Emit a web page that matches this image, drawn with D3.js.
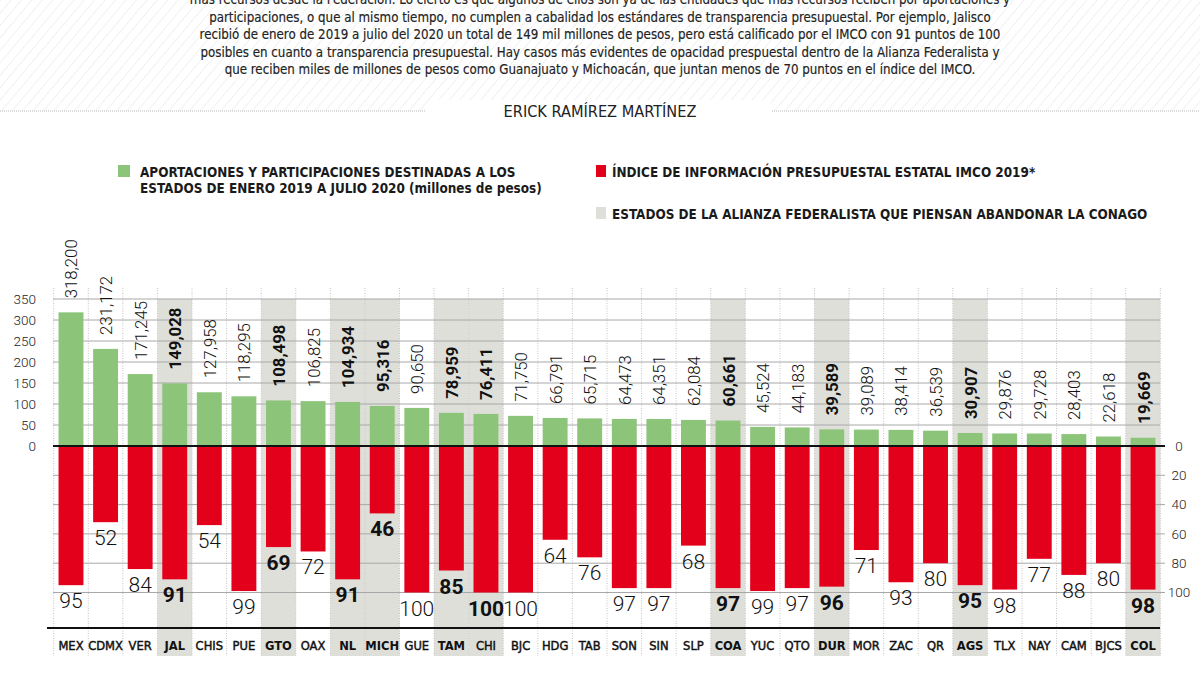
<!DOCTYPE html>
<html><head><meta charset="utf-8">
<script src="https://cdn.jsdelivr.net/npm/d3@7"></script>
<style>
html,body{margin:0;padding:0;background:#fff;}
svg{display:block;}
</style></head>
<body>
<svg id="chart" width="1200" height="675"></svg>
<script>
const categories = ["MEX","CDMX","VER","JAL","CHIS","PUE","GTO","OAX","NL","MICH","GUE","TAM","CHI","BJC","HDG","TAB","SON","SIN","SLP","COA","YUC","QTO","DUR","MOR","ZAC","QR","AGS","TLX","NAY","CAM","BJCS","COL"];
const aportaciones = [318200,231172,171245,149028,127958,118295,108498,106825,104934,95316,90650,78959,76411,71750,66791,65715,64473,64351,62084,60661,45524,44183,39589,39089,38414,36539,30907,29876,29728,28403,22618,19669];
const indiceIMCO = [95,52,84,91,54,99,69,72,91,46,100,85,100,100,64,76,97,97,68,97,99,97,96,71,93,80,95,98,77,88,80,98];
const alianza = ["JAL","GTO","NL","MICH","TAM","CHI","COA","DUR","AGS","COL"];
const boldCategoryLabels = ["JAL","GTO","NL","MICH","TAM","COA","DUR","AGS","COL"];
const leftTicks = [0,50,100,150,200,250,300,350];
const rightTicks = [0,20,40,60,80,100];
const introLines = [
 "más recursos desde la Federación. Lo cierto es que algunos de ellos son ya de las entidades que más recursos reciben por aportaciones y",
 "participaciones, o que al mismo tiempo, no cumplen a cabalidad los estándares de transparencia presupuestal. Por ejemplo, Jalisco",
 "recibió de enero de 2019 a julio del 2020 un total de 149 mil millones de pesos, pero está calificado por el IMCO con 91 puntos de 100",
 "posibles en cuanto a transparencia presupuestal. Hay casos más evidentes de opacidad prespuestal dentro de la Alianza Federalista y",
 "que reciben miles de millones de pesos como Guanajuato y Michoacán, que juntan menos de 70 puntos en el índice del IMCO."
];
const author = "ERICK RAMÍREZ MARTÍNEZ";
const legendItems = [
 {lines:["APORTACIONES Y PARTICIPACIONES DESTINADAS A LOS","ESTADOS DE ENERO 2019 A JULIO 2020 (millones de pesos)"], color:"#8cc47a"},
 {lines:["ÍNDICE  DE INFORMACIÓN PRESUPUESTAL ESTATAL IMCO 2019*"], color:"#e3001b"},
 {lines:["ESTADOS DE LA ALIANZA FEDERALISTA QUE PIENSAN ABANDONAR LA CONAGO"], color:"#dfdfda"}
];

const data = categories.map((c,i)=>({cat:c, ap:aportaciones[i]/1000, apRaw:aportaciones[i], idx:indiceIMCO[i], al:alianza.includes(c)}));

const GREEN="#8cc47a", RED="#e3001b", SHADE="#dfdfda";
const condensed = "'DejaVu Sans Condensed','DejaVu Sans',sans-serif";
const numFont = "Roboto,'Open Sans',sans-serif";

const svg = d3.select("#chart");

// header stripes
const defs = svg.append("defs");
const pat = defs.append("pattern").attr("id","stripes").attr("width",8).attr("height",8)
  .attr("patternUnits","userSpaceOnUse").attr("patternTransform","rotate(40)");
pat.append("line").attr("x1",0).attr("y1",0).attr("x2",0).attr("y2",8).attr("stroke","#ececec").attr("stroke-width",1.5);
svg.append("rect").attr("x",0).attr("y",0).attr("width",1200).attr("height",111).attr("fill","url(#stripes)");

// intro text
svg.append("g").selectAll("text").data(introLines).join("text")
  .attr("x",600).attr("y",(d,i)=>4+i*17.5)
  .attr("text-anchor","middle").attr("font-family",condensed).attr("font-size",13.2)
  .attr("fill","#222").attr("stroke","#222").attr("stroke-width",0.15).text(d=>d);

// author line
svg.append("line").attr("x1",0).attr("x2",425).attr("y1",111).attr("y2",111).attr("stroke","#bbb").attr("stroke-dasharray","1,1");
svg.append("line").attr("x1",772).attr("x2",1200).attr("y1",111).attr("y2",111).attr("stroke","#bbb").attr("stroke-dasharray","1,1");
svg.append("rect").attr("x",430).attr("y",100).attr("width",340).attr("height",22).attr("fill","#fff");
svg.append("text").attr("x",600).attr("y",117).attr("text-anchor","middle")
  .attr("font-family",condensed).attr("font-size",16.2).attr("fill","#222").text(author);

// legend
const legPos = [{x:118,y:165},{x:594,y:165},{x:594,y:207}];
legendItems.forEach((it,i)=>{
  const g = svg.append("g").attr("transform",`translate(${legPos[i].x},${legPos[i].y})`);
  g.append("rect").attr("width",i===0?12:10).attr("height",12).attr("x",i===0?0:2).attr("fill",it.color);
  g.selectAll("text").data(it.lines).join("text")
    .attr("x",i===0?22:18).attr("y",(d,j)=>11.5+j*16)
    .attr("font-family",condensed).attr("font-size",13.4).attr("font-weight",700)
    .attr("fill","#1a1a1a").text(d=>d);
});

// scales
const x = d3.scaleBand().domain(categories).range([53.7,1160.3]).padding(0);
const bw = x.bandwidth()*0.72;
const yTop = d3.scaleLinear().domain([0,350]).range([446,299]);
const yBot = d3.scaleLinear().domain([0,100]).range([446,592.5]);

// shading
svg.append("g").selectAll("rect").data(data.filter(d=>d.al)).join("rect")
  .attr("x",d=>x(d.cat)).attr("width",x.bandwidth())
  .attr("y",299).attr("height",656-299).attr("fill",SHADE);

// vertical dotted grid
const bounds = categories.map(c=>x(c)).concat([x.range()[1]]);
svg.append("g").selectAll("line").data(bounds).join("line")
  .attr("x1",d=>d).attr("x2",d=>d).attr("y1",288).attr("y2",656)
  .attr("stroke","#c4c4c4").attr("stroke-width",1).attr("stroke-dasharray","1,1.5");

// horizontal grids
svg.append("g").selectAll("line").data(leftTicks.filter(t=>t>0)).join("line")
  .attr("x1",53).attr("x2",1160).attr("y1",d=>yTop(d)).attr("y2",d=>yTop(d))
  .attr("stroke","#a8a8a8").attr("stroke-width",1);
svg.append("g").selectAll("line").data(rightTicks.filter(t=>t>0)).join("line")
  .attr("x1",53).attr("x2",1165).attr("y1",d=>yBot(d)).attr("y2",d=>yBot(d))
  .attr("stroke","#a8a8a8").attr("stroke-width",1);

// bars
svg.append("g").selectAll("rect").data(data).join("rect")
  .attr("x",d=>x(d.cat)+(x.bandwidth()-bw)/2).attr("width",bw)
  .attr("y",d=>yTop(d.ap)).attr("height",d=>yTop(0)-yTop(d.ap)).attr("fill",GREEN);
svg.append("g").selectAll("rect").data(data).join("rect")
  .attr("x",d=>x(d.cat)+(x.bandwidth()-bw)/2).attr("width",bw)
  .attr("y",yBot(0)).attr("height",d=>yBot(d.idx)-yBot(0)).attr("fill",RED);

// zero line and bottom line
svg.append("line").attr("x1",53).attr("x2",1165).attr("y1",446).attr("y2",446).attr("stroke","#111").attr("stroke-width",2);
svg.append("line").attr("x1",47).attr("x2",1160).attr("y1",628).attr("y2",628).attr("stroke","#111").attr("stroke-width",2);

// green value labels (rotated)
svg.append("g").selectAll("text").data(data).join("text")
  .attr("transform",d=>`translate(${x(d.cat)+x.bandwidth()/2+6.5},${yTop(d.ap)-14}) rotate(-90)`)
  .attr("font-family",numFont).attr("font-size",16.8)
  .attr("font-weight",d=>d.al?700:300).attr("fill","#111")
  .text(d=>d3.format(",")(d.apRaw));

// red value labels
svg.append("g").selectAll("text").data(data).join("text")
  .attr("x",d=>x(d.cat)+x.bandwidth()/2).attr("y",d=>yBot(d.idx)+23)
  .attr("text-anchor","middle").attr("font-family",numFont).attr("font-size",21)
  .attr("font-weight",d=>d.al?700:300).attr("fill","#111").text(d=>d.idx);

// axes
const axL = svg.append("g").attr("transform","translate(38,0)")
  .call(d3.axisLeft(yTop).tickValues(leftTicks).tickSize(0).tickPadding(2));
axL.select(".domain").remove();
axL.selectAll("text").attr("font-family",numFont).attr("font-size",13.5).attr("font-weight",300).attr("fill","#222");

const axR = svg.append("g").attr("transform","translate(1170,0)")
  .call(d3.axisRight(yBot).tickValues(rightTicks).tickSize(0).tickPadding(0));
axR.select(".domain").remove();
axR.selectAll("text").attr("font-family",numFont).attr("font-size",13.5).attr("font-weight",300).attr("fill","#222")
  .attr("text-anchor","middle").attr("x",9);

// category labels
svg.append("g").selectAll("text").data(data).join("text")
  .attr("x",d=>x(d.cat)+x.bandwidth()/2).attr("y",649.5)
  .attr("text-anchor","middle").attr("font-family",condensed).attr("font-size",12.8)
  .attr("font-weight",d=>boldCategoryLabels.includes(d.cat)?700:400)
  .attr("stroke","#111").attr("stroke-width",d=>boldCategoryLabels.includes(d.cat)?0:0.45)
  .attr("fill","#111")
  .text(d=>d.cat);
</script>
</body></html>
